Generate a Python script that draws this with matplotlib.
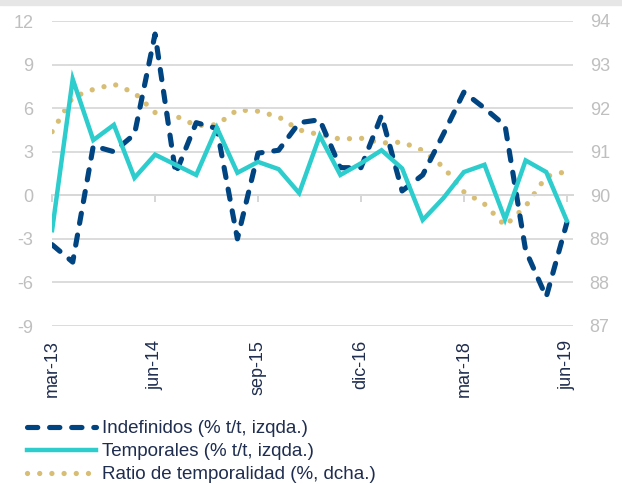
import matplotlib
matplotlib.use("Agg")
import matplotlib.pyplot as plt
from matplotlib.patches import Rectangle

plt.rcParams["font.family"] = ["Liberation Sans", "DejaVu Sans"]
plt.rcParams["axes.unicode_minus"] = False

# Datos trimestrales (mar-13 .. jun-19)
trimestres = list(range(26))
etiquetas_x = ["mar-13", "jun-14", "sep-15", "dic-16", "mar-18", "jun-19"]
pos_etiquetas = [0, 5, 10, 15, 20, 25]

indefinidos = [-3.4, -4.6, 3.4, 3.0, 4.2, 11.1, 1.5, 5.0, 4.6, -3.0, 2.9, 3.1, 5.0,
               5.2, 1.9, 1.9, 5.5, 0.3, 1.4, 4.2, 7.1, 6.0, 4.8, -3.8, -7.0, -1.9]
temporales = [-2.4, 8.0, 3.8, 4.85, 1.2, 2.8, 2.1, 1.4, 4.65, 1.55, 2.3, 1.8, 0.15,
              4.1, 1.4, 2.2, 3.1, 1.85, -1.7, -0.2, 1.6, 2.1, -1.65, 2.4, 1.6, -1.75]
ratio_temp = [91.46, 92.25, 92.43, 92.55, 92.35, 91.9, 91.82, 91.6, 91.62, 91.96,
              91.93, 91.8, 91.5, 91.39, 91.29, 91.31, 91.2, 91.22, 91.03, 90.65,
              90.08, 89.8, 89.3, 89.75, 90.43, 90.55]

azul = "#004481"
aqua = "#2DCCCD"
arena = "#D8BE75"
gris = "#BFBFBF"
texto = "#1F2D4F"

fig = plt.figure(figsize=(6.22, 4.84), dpi=100)
fig.patches.append(Rectangle((0, 1 - 4.5 / 484), 1, 4.5 / 484, transform=fig.transFigure,
                             color="#E6E6E6", zorder=0))
ax = fig.add_axes([51.5 / 622, 1 - 326 / 484, (573 - 51.5) / 622, (326 - 21) / 484])
ax2 = ax.twinx()

l1, = ax.plot(trimestres, indefinidos, color=azul, lw=3.7, linestyle=(0, (2.0, 2.3)),
              dash_capstyle="round", solid_joinstyle="round", zorder=3,
              label="Indefinidos (% t/t, izqda.)")
l2, = ax.plot(trimestres, temporales, color=aqua, lw=3.2, solid_joinstyle="miter",
              zorder=4, label="Temporales (% t/t, izqda.)")
l3, = ax2.plot(trimestres, ratio_temp, color=arena, lw=3.8, linestyle=(0, (0.01, 2.3)),
               dash_capstyle="round", label="Ratio de temporalidad (%, dcha.)")

# l3 se dibuja en ax2; pasamos ax2 detras de ax
ax.set_zorder(ax2.get_zorder() + 1)
ax.patch.set_visible(False)

ax.set_xlim(-0.03, 25.3)
ax.set_ylim(-9, 12)
ax.set_yticks(range(-9, 13, 3))
ax2.set_ylim(87, 94)
ax2.set_yticks(range(87, 95))

ax.grid(axis="y", color="#D9D9D9", lw=1.3)
ax.set_axisbelow(True)
for a in (ax, ax2):
    for s in a.spines.values():
        s.set_visible(False)

ax.set_xticks(pos_etiquetas)
ax.set_xticklabels(etiquetas_x, rotation=90, color=texto, fontsize=13)
ax.tick_params(axis="x", length=0, pad=10)
ax.tick_params(axis="y", length=0, pad=13, labelcolor=gris, labelsize=13)
ax2.tick_params(axis="y", length=0, pad=12, labelcolor=gris, labelsize=13)

# eje de categorias cruzando en 0
eje0 = ax.secondary_xaxis(9 / 21)
eje0.set_xticks(pos_etiquetas)
eje0.tick_params(length=5, width=1.2, color="#D0D0D0", labelbottom=False)
eje0.spines["bottom"].set_color("#D0D0D0")
eje0.spines["bottom"].set_linewidth(1.3)

fig.legend(handles=[l1, l2, l3], loc="upper left", bbox_to_anchor=(27 / 622, 1 - 420 / 484),
           frameon=False, fontsize=13.5, labelcolor=texto, handlelength=3.7,
           handletextpad=0.3, labelspacing=0.32, borderpad=0, borderaxespad=0)

fig.savefig("out.png", dpi=100)
